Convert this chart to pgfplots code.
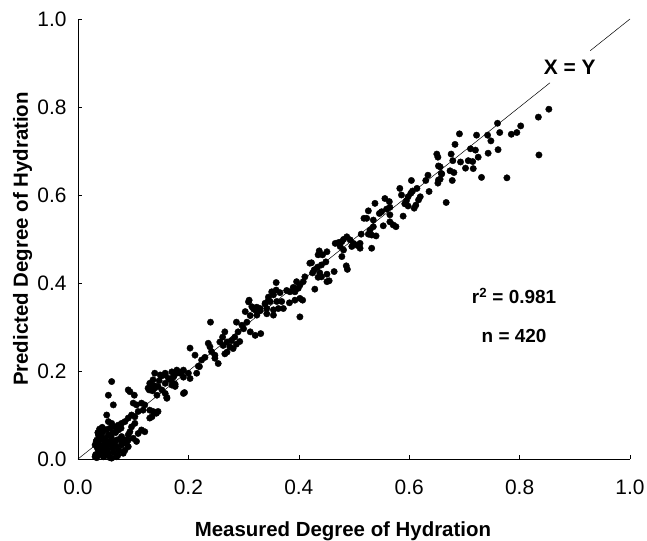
\documentclass[border=0pt]{standalone}
\usepackage{pgfplots}
\pgfplotsset{compat=1.18}
\usepackage{pgfplotstable}
\usepackage{fontspec}
\setmainfont{Liberation Sans}

\pgfplotstableread{
x y
0.853 0.795
0.834 0.777
0.835 0.691
0.802 0.757
0.795 0.742
0.785 0.738
0.777 0.639
0.764 0.742
0.760 0.763
0.761 0.703
0.748 0.723
0.742 0.736
0.743 0.695
0.731 0.640
0.722 0.736
0.720 0.702
0.711 0.705
0.725 0.686
0.715 0.676
0.707 0.678
0.716 0.660
0.702 0.661
0.693 0.675
0.691 0.739
0.683 0.715
0.676 0.693
0.679 0.678
0.674 0.655
0.681 0.651
0.678 0.633
0.659 0.648
0.656 0.664
0.656 0.636
0.650 0.693
0.652 0.686
0.653 0.666
0.658 0.649
0.634 0.645
0.630 0.633
0.653 0.634
0.652 0.627
0.604 0.633
0.636 0.608
0.614 0.615
0.606 0.609
0.583 0.615
0.603 0.604
0.598 0.596
0.595 0.587
0.620 0.596
0.617 0.589
0.612 0.577
0.609 0.570
0.592 0.580
0.598 0.575
0.589 0.552
0.667 0.583
0.586 0.600
0.556 0.592
0.538 0.581
0.564 0.585
0.565 0.572
0.559 0.568
0.550 0.562
0.546 0.558
0.526 0.564
0.523 0.547
0.518 0.547
0.565 0.555
0.565 0.539
0.571 0.532
0.576 0.528
0.553 0.530
0.535 0.543
0.535 0.528
0.529 0.520
0.532 0.509
0.540 0.507
0.513 0.511
0.487 0.505
0.481 0.499
0.493 0.498
0.499 0.490
0.505 0.486
0.511 0.490
0.478 0.494
0.496 0.483
0.511 0.479
0.532 0.479
0.472 0.492
0.466 0.490
0.475 0.483
0.481 0.475
0.526 0.511
0.478 0.460
0.486 0.439
0.488 0.431
0.451 0.471
0.437 0.473
0.435 0.464
0.443 0.464
0.423 0.446
0.420 0.445
0.449 0.448
0.441 0.441
0.434 0.436
0.428 0.430
0.425 0.423
0.438 0.423
0.441 0.414
0.435 0.413
0.451 0.420
0.455 0.405
0.451 0.403
0.464 0.426
0.429 0.386
0.411 0.414
0.408 0.403
0.402 0.395
0.396 0.403
0.390 0.390
0.399 0.388
0.384 0.380
0.393 0.380
0.378 0.383
0.366 0.378
0.359 0.384
0.354 0.373
0.359 0.401
0.351 0.380
0.345 0.361
0.339 0.354
0.348 0.358
0.360 0.358
0.402 0.365
0.407 0.361
0.393 0.361
0.383 0.355
0.369 0.358
0.372 0.342
0.363 0.342
0.354 0.339
0.342 0.342
0.330 0.342
0.321 0.339
0.315 0.346
0.310 0.361
0.303 0.335
0.324 0.327
0.354 0.327
0.402 0.323
0.345 0.368
0.339 0.352
0.342 0.330
0.330 0.337
0.324 0.345
0.318 0.341
0.309 0.357
0.312 0.326
0.306 0.311
0.297 0.304
0.300 0.296
0.312 0.289
0.321 0.281
0.331 0.285
0.290 0.289
0.284 0.277
0.278 0.269
0.287 0.261
0.293 0.267
0.275 0.255
0.281 0.251
0.270 0.243
0.266 0.239
0.262 0.277
0.266 0.289
0.257 0.266
0.263 0.258
0.270 0.266
0.287 0.311
0.240 0.311
0.236 0.263
0.239 0.255
0.242 0.244
0.248 0.236
0.254 0.217
0.248 0.229
0.230 0.231
0.224 0.225
0.218 0.211
0.203 0.252
0.212 0.236
0.220 0.210
0.215 0.195
0.200 0.195
0.191 0.202
0.185 0.195
0.179 0.202
0.170 0.198
0.173 0.187
0.164 0.183
0.158 0.195
0.149 0.191
0.139 0.195
0.136 0.180
0.130 0.172
0.127 0.161
0.139 0.166
0.145 0.165
0.158 0.172
0.173 0.172
0.191 0.186
0.203 0.183
0.176 0.165
0.188 0.198
0.179 0.195
0.173 0.187
0.167 0.180
0.158 0.191
0.152 0.189
0.147 0.178
0.134 0.168
0.129 0.157
0.139 0.161
0.152 0.157
0.158 0.149
0.161 0.140
0.170 0.168
0.176 0.170
0.193 0.151
0.143 0.145
0.135 0.155
0.191 0.149
0.161 0.138
0.061 0.176
0.055 0.145
0.091 0.157
0.102 0.145
0.064 0.123
0.100 0.127
0.106 0.123
0.115 0.127
0.121 0.123
0.118 0.111
0.130 0.111
0.136 0.108
0.142 0.104
0.145 0.108
0.109 0.108
0.097 0.100
0.103 0.096
0.091 0.093
0.085 0.085
0.079 0.081
0.073 0.077
0.067 0.073
0.061 0.081
0.055 0.085
0.052 0.100
0.130 0.093
0.134 0.096
0.094 0.153
0.103 0.081
0.097 0.073
0.094 0.062
0.091 0.055
0.100 0.047
0.106 0.040
0.121 0.062
0.115 0.066
0.109 0.058
0.085 0.043
0.088 0.036
0.091 0.028
0.079 0.051
0.073 0.066
0.070 0.043
0.079 0.032
0.085 0.020
0.073 0.020
0.067 0.028
0.061 0.036
0.055 0.039
0.049 0.047
0.046 0.066
0.043 0.058
0.037 0.055
0.034 0.043
0.031 0.032
0.040 0.028
0.049 0.020
0.055 0.013
0.046 0.005
0.037 0.009
0.031 0.005
0.037 0.020
0.052 0.028
0.061 0.002
0.070 0.005
0.082 0.013
0.091 0.043
0.032 0.010
0.035 0.025
0.038 0.035
0.040 0.045
0.042 0.050
0.036 0.060
0.039 0.068
0.044 0.030
0.047 0.015
0.050 0.008
0.053 0.020
0.057 0.035
0.060 0.050
0.063 0.060
0.058 0.070
0.066 0.040
0.069 0.030
0.064 0.015
0.072 0.008
0.045 0.062
0.033 0.040
0.041 0.018
0.055 0.055
0.048 0.040
0.062 0.025
0.068 0.060
0.075 0.045
0.078 0.070
0.034 0.003
0.058 0.003
0.044 0.072
0.052 0.067
0.038 0.052
0.074 0.020
0.080 0.035
}\pts

\begin{document}
\begin{tikzpicture}
\begin{axis}[
  scale only axis, width=552bp, height=440bp,
  xmin=0, xmax=1, ymin=0, ymax=1,
  axis x line*=bottom, axis y line*=left,
  axis line style={line width=0.6bp, black},
  xtick={0,0.2,0.4,0.6,0.8,1.0}, ytick={0,0.2,0.4,0.6,0.8,1.0},
  tick align=inside, major tick length=4bp,
  tick style={black, line width=0.5bp},
  /pgf/number format/assume math mode=true,
  /pgf/number format/.cd, fixed, fixed zerofill, precision=1, /pgfplots/.cd,
  tick label style={font=\fontsize{21}{24}\selectfont},
  xticklabel style={yshift=-17bp},
  yticklabel style={xshift=-8bp},
  xlabel={Measured Degree of Hydration},
  ylabel={Predicted Degree of Hydration},
  label style={font=\bfseries\fontsize{20.5}{24}\selectfont},
  xlabel style={at={(axis description cs:0.48,-0.177)}, anchor=base},
  ylabel style={at={(axis description cs:-0.0906,0.5)}, anchor=base},
  clip=false,
]
\coordinate (sw) at (rel axis cs:0,0);
\coordinate (ne) at (rel axis cs:1,1);
\addplot[black, line width=0.5bp, no marks] coordinates {(0,0) (0.855,0.855)};
\addplot[black, line width=0.5bp, no marks] coordinates {(0.928,0.928) (1,1)};
\addplot[only marks, mark=*, mark size=3.2bp, mark options={fill=black, draw=black, line width=0.4bp}] table {\pts};
\node[font=\bfseries\fontsize{21}{24}\selectfont] at (axis cs:0.891,0.891) {X = Y};
\node[font=\bfseries\fontsize{19}{22}\selectfont] at (axis cs:0.79,0.37) {r\textsuperscript{2} = 0.981};
\node[font=\bfseries\fontsize{19}{22}\selectfont] at (axis cs:0.79,0.28) {n = 420};
\end{axis}
\pgfresetboundingbox
\path[use as bounding box] ([xshift=-78bp,yshift=-82bp]sw) rectangle ([xshift=17bp,yshift=19bp]ne);
\end{tikzpicture}
\end{document}
